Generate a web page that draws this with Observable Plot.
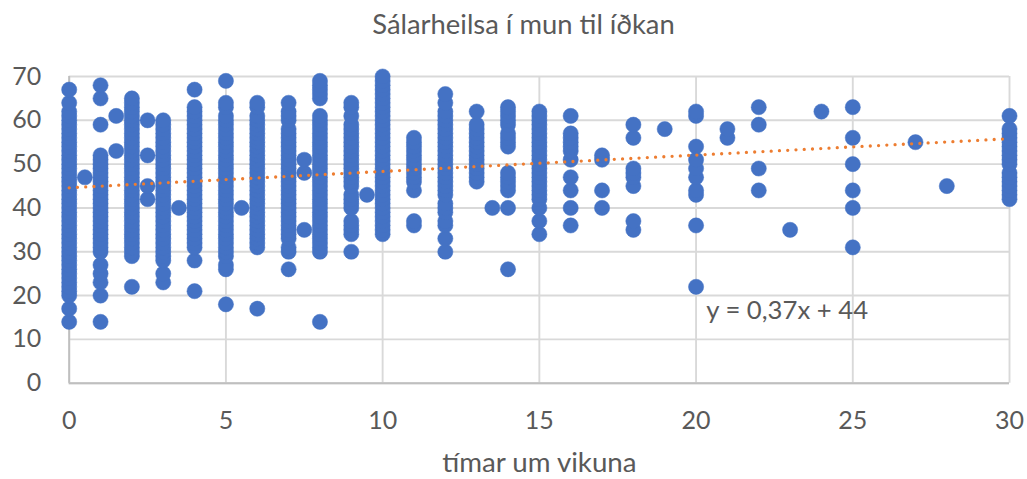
<!DOCTYPE html>
<html>
<head>
<meta charset="utf-8">
<script src="https://cdn.jsdelivr.net/npm/d3@7"></script>
<script src="https://cdn.jsdelivr.net/npm/@observablehq/plot@0.6"></script>
<style>
html,body{margin:0;padding:0;background:#fff;}
#title{height:42px;box-sizing:border-box;padding-top:10px;text-align:center;font:27.4px Lato,sans-serif;color:#595959;line-height:28px;padding-left:20px;}
svg{display:block;}
</style>
</head>
<body>
<div id="title"></div>
<div id="chart"></div>
<script>
const titleText = "Sálarheilsa í mun til íðkan";
const xLabel = "tímar um vikuna";
const equationText = "y = 0,37x + 44";
const xTicks = [0, 5, 10, 15, 20, 25, 30];
const yTicks = [0, 10, 20, 30, 40, 50, 60, 70];
const trendX = [0, 30];
const trendY = [44.6, 55.8];

const h0 = [14,17,20,21,22,23,24,25,26,27,28,29,30,31,32,33,34,35,36,37,38,39,40,41,42,43,44,45,46,47,48,49,50,51,52,53,54,55,56,57,58,59,60,61,62,64,67];
const h05 = [47];
const h1 = [14,20,23,25,27,30,31,32,33,34,35,36,37,38,39,40,41,42,43,44,45,46,47,48,49,50,51,52,59,65,68];
const h15 = [53,61];
const h2 = [22,29,30,31,32,33,34,35,36,37,38,39,40,41,42,43,44,45,46,47,48,49,50,51,52,53,54,55,56,57,58,59,60,61,62,63,64,65];
const h25 = [42,45,52,60];
const h3 = [23,25,28,29,30,31,32,33,34,35,36,37,38,39,40,41,42,43,44,45,46,47,48,49,50,51,52,53,54,55,56,57,58,59,60];
const h35 = [40];
const h4 = [21,28,31,32,33,34,35,36,37,38,39,40,41,42,43,44,45,46,47,48,49,50,51,52,53,54,55,56,57,58,59,60,61,62,63,67];
const h5 = [18,26,27,29,30,31,32,33,34,35,36,37,38,39,40,41,42,43,44,45,46,47,48,49,50,51,52,53,54,55,56,57,58,59,60,61,63,64,69];
const h55 = [40];
const h6 = [17,31,32,33,34,35,36,37,38,39,40,41,42,43,44,45,46,47,48,49,50,51,52,53,54,55,56,57,58,59,60,61,63,64];
const h7 = [26,30,31,33,34,35,36,37,38,39,40,41,42,43,44,45,46,47,48,49,50,51,52,53,54,55,56,57,58,60,61,62,64];
const h75 = [35,48,51];
const h8 = [14,30,31,32,33,34,35,36,37,38,39,40,41,42,43,44,45,46,47,48,49,50,51,52,53,54,55,56,57,58,59,60,61,65,66,67,68,69];
const h9 = [30,34,35,36,37,40,41,42,43,45,46,47,48,49,50,51,52,53,54,55,56,57,58,59,61,63,64];
const h95 = [43];
const h10 = [34,35,36,37,38,39,40,41,42,43,44,45,46,47,48,49,50,51,52,53,54,55,56,57,58,59,60,61,62,63,64,65,66,67,68,69,70];
const h11 = [36,37,44,46,47,48,49,50,51,52,53,54,55,56];
const h12 = [30,33,36,37,39,40,41,43,44,45,46,47,48,49,50,51,52,53,54,55,56,57,58,59,60,61,62,64,66];
const h13 = [46,47,48,49,50,51,52,53,54,55,56,57,58,59,62];
const h135 = [40];
const h14 = [26,40,44,45,46,47,48,54,55,56,57,59,60,61,62,63];
const h15h = [34,37,40,42,43,44,45,46,47,48,49,50,51,52,53,54,55,56,57,58,59,60,61,62];
const h16 = [36,40,44,47,51,53,54,55,56,57,61];
const h17 = [40,44,51,52];
const h18 = [35,37,45,47,48,49,56,59];
const h19 = [58];
const h20 = [22,36,43,44,47,49,51,54,61,62];
const h21 = [56,58];
const h22 = [44,49,59,63];
const h23 = [35];
const h24 = [62];
const h25h = [31,40,44,50,56,63];
const h27 = [55];
const h28 = [45];
const h30 = [42,43,44,45,46,47,48,50,51,52,53,54,55,56,57,58,61];

const columns = [[0,h0],[0.5,h05],[1,h1],[1.5,h15],[2,h2],[2.5,h25],[3,h3],[3.5,h35],[4,h4],[5,h5],[5.5,h55],[6,h6],[7,h7],[7.5,h75],[8,h8],[9,h9],[9.5,h95],[10,h10],[11,h11],[12,h12],[13,h13],[13.5,h135],[14,h14],[15,h15h],[16,h16],[17,h17],[18,h18],[19,h19],[20,h20],[21,h21],[22,h22],[23,h23],[24,h24],[25,h25h],[27,h27],[28,h28],[30,h30]];
const points = columns.flatMap(([x, ys]) => ys.map(y => ({x, y})));
const trend = trendX.map((x, i) => ({x, y: trendY[i]}));

document.getElementById("title").textContent = titleText;

const chart = Plot.plot({
  width: 1027,
  height: 437,
  marginLeft: 68.7,
  marginRight: 18,
  marginTop: 34,
  marginBottom: 96.3,
  style: {fontFamily: "Lato, sans-serif", fontSize: "25px", color: "#595959", background: "#fff"},
  x: {domain: [0, 30], label: null},
  y: {domain: [0, 70], label: null},
  marks: [
    Plot.gridY(yTicks, {stroke: "#d9d9d9", strokeWidth: 1.9, strokeOpacity: 1}),
    Plot.gridX(xTicks, {stroke: "#d9d9d9", strokeWidth: 1.9, strokeOpacity: 1}),
    Plot.ruleY([0], {stroke: "#bfbfbf", strokeWidth: 1.9}),
    Plot.ruleX([0], {stroke: "#bfbfbf", strokeWidth: 1.9}),
    Plot.axisX(xTicks, {tickSize: 0, tickPadding: 28, fontSize: 25, tickFormat: d => String(d), label: null}),
    Plot.axisY(yTicks, {tickSize: 0, tickPadding: 28, fontSize: 25, tickFormat: d => String(d), label: null}),
    Plot.dot(points, {x: "x", y: "y", r: 7.6, fill: "#4472c4", stroke: "#4472c4", strokeWidth: 0.5}),
    Plot.line(trend, {x: "x", y: "y", stroke: "#ed7d31", strokeWidth: 3.3, strokeDasharray: "0 8.27", strokeLinecap: "round"}),
    Plot.text([equationText], {frameAnchor: "bottom-left", dx: 637, dy: -64, fontSize: 25.7, fill: "#595959", textAnchor: "start"}),
    Plot.text([xLabel], {frameAnchor: "bottom", dy: 89, fontSize: 27.7, fill: "#595959"})
  ]
});
document.getElementById("chart").appendChild(chart);
</script>
</body>
</html>
